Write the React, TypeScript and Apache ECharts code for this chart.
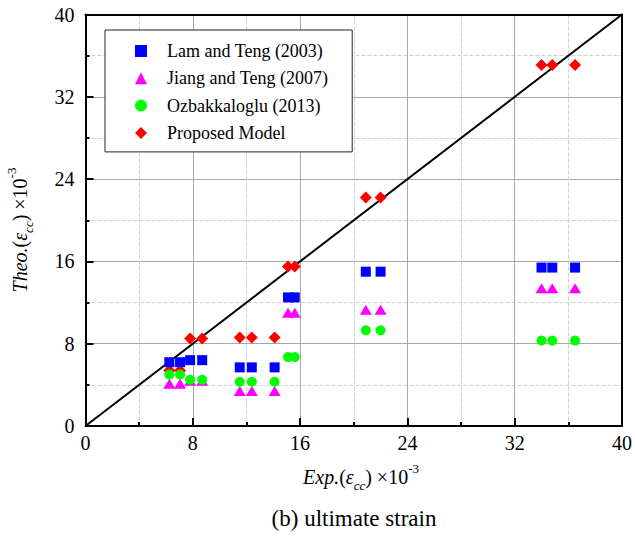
import React, { useEffect, useRef } from "react";
import * as echarts from "echarts";

const FONT = "Times New Roman, Liberation Serif, DejaVu Serif, serif";

const expStrain = [6.25, 7.05, 7.8, 8.7, 11.5, 12.4, 14.1, 15.1, 15.6, 20.9, 22.0, 34.0, 34.8, 36.5];
const lamTeng = [6.2, 6.2, 6.4, 6.4, 5.7, 5.7, 5.7, 12.5, 12.5, 15.0, 15.0, 15.4, 15.4, 15.4];
const jiangTeng = [4.1, 4.1, 4.4, 4.4, 3.4, 3.4, 3.4, 11.0, 11.0, 11.3, 11.3, 13.4, 13.4, 13.4];
const ozbak = [5.0, 5.0, 4.5, 4.5, 4.3, 4.3, 4.3, 6.7, 6.7, 9.3, 9.3, 8.3, 8.3, 8.3];
const proposed = [5.4, 5.4, 8.5, 8.5, 8.6, 8.6, 8.6, 15.5, 15.5, 22.2, 22.2, 35.1, 35.1, 35.1];
const diagonal = [[0, 0], [40, 40]];
const names = ["Lam and Teng (2003)", "Jiang and Teng (2007)", "Ozbakkaloglu (2013)", "Proposed Model"];

const pairs = (ys: number[]) => expStrain.map((x, i) => [x, ys[i]]);

const titleRich = {
  i: { fontFamily: FONT, fontSize: 20, fontStyle: "italic", lineHeight: 30, verticalAlign: "middle", fill: "#000" },
  n: { fontFamily: FONT, fontSize: 20, lineHeight: 30, verticalAlign: "middle", fill: "#000" },
  sub: { fontFamily: FONT, fontSize: 13, fontStyle: "italic", lineHeight: 12, verticalAlign: "bottom", fill: "#000" },
  sup: { fontFamily: FONT, fontSize: 13, lineHeight: 12, verticalAlign: "top", fill: "#000" },
};

export default function App() {
  const ref = useRef<HTMLDivElement>(null);
  useEffect(() => {
    if (!ref.current) return;
    const chart = echarts.init(ref.current, null, { renderer: "svg" });
    const baseAxis = {
      type: "value" as const,
      min: 0,
      max: 40,
      interval: 8,
      axisLine: { show: true, onZero: false, lineStyle: { color: "#000", width: 2 } },
      axisTick: { show: true, inside: true, length: 8, lineStyle: { color: "#000", width: 2 } },
      minorTick: { show: true, splitNumber: 2, length: 4, lineStyle: { color: "#000", width: 2 } },
      splitLine: { show: true, lineStyle: { color: "#a8a8a8", width: 1 } },
      minorSplitLine: { show: true, lineStyle: { color: "#cfcfcf", width: 1, type: "dashed" } },
      axisLabel: { fontFamily: FONT, fontSize: 20, color: "#000" },
    };
    const frameAxis = {
      type: "value" as const,
      min: 0,
      max: 40,
      interval: 8,
      axisLine: { show: true, onZero: false, lineStyle: { color: "#000", width: 2 } },
      axisTick: { show: false },
      axisLabel: { show: false },
      splitLine: { show: false },
    };
    chart.setOption({
      animation: false,
      backgroundColor: "#fff",
      textStyle: { fontFamily: FONT },
      grid: { left: 85.5, right: 10, top: 14.5, bottom: 114, containLabel: false },
      xAxis: [
        { ...baseAxis, position: "bottom", axisLabel: { ...baseAxis.axisLabel, margin: 7 } },
        { ...frameAxis, position: "top" },
      ],
      yAxis: [
        { ...baseAxis, position: "left", axisLabel: { ...baseAxis.axisLabel, margin: 11 } },
        { ...frameAxis, position: "right" },
      ],
      legend: {
        orient: "vertical",
        left: 105,
        top: 30,
        data: names,
        itemWidth: 12,
        itemHeight: 12,
        itemGap: 9.3,
        padding: [12, 24, 10, 30],
        borderColor: "#222",
        borderWidth: 1,
        backgroundColor: "#fff",
        textStyle: { fontFamily: FONT, fontSize: 18, color: "#000", lineHeight: 18, padding: [0, 0, 0, 15] },
      },
      series: [
        {
          type: "line",
          data: diagonal,
          showSymbol: false,
          symbol: "none",
          lineStyle: { color: "#000", width: 2 },
          silent: true,
          z: 1,
        },
        {
          name: names[3],
          type: "scatter",
          data: pairs(proposed),
          symbol: "diamond",
          symbolSize: 12,
          itemStyle: { color: "#ff0000", opacity: 1 },
          z: 2,
        },
        {
          name: names[1],
          type: "scatter",
          data: pairs(jiangTeng),
          symbol: "triangle",
          symbolSize: [12, 10],
          itemStyle: { color: "#ff00ff", opacity: 1 },
          z: 3,
        },
        {
          name: names[2],
          type: "scatter",
          data: pairs(ozbak),
          symbol: "circle",
          symbolSize: 10,
          itemStyle: { color: "#00ff00", opacity: 1 },
          z: 4,
        },
        {
          name: names[0],
          type: "scatter",
          data: pairs(lamTeng),
          symbol: "rect",
          symbolSize: 10,
          itemStyle: { color: "#0000ff", opacity: 1 },
          z: 5,
        },
      ],
      graphic: [
        {
          type: "text",
          x: 361,
          y: 477,
          style: {
            text: "{i|Exp.}{n|(}{i|ε}{sub|cc}{n|) ×10}{sup|-3}",
            rich: titleRich,
            align: "center",
            verticalAlign: "middle",
          },
        },
        {
          type: "text",
          x: 20,
          y: 230,
          rotation: Math.PI / 2,
          style: {
            text: "{i|Theo.}{n|(}{i|ε}{sub|cc}{n|) ×10}{sup|-3}",
            rich: titleRich,
            align: "center",
            verticalAlign: "middle",
          },
        },
        {
          type: "text",
          x: 354,
          y: 518,
          style: {
            text: "(b) ultimate strain",
            fontFamily: FONT,
            fontSize: 23,
            fill: "#000",
            align: "center",
            verticalAlign: "middle",
          },
        },
      ],
    });
    return () => chart.dispose();
  }, []);
  return (
    <div
      ref={ref}
      style={{ position: "absolute", left: 0, top: 0, width: 635, height: 540, background: "#fff" }}
    />
  );
}
